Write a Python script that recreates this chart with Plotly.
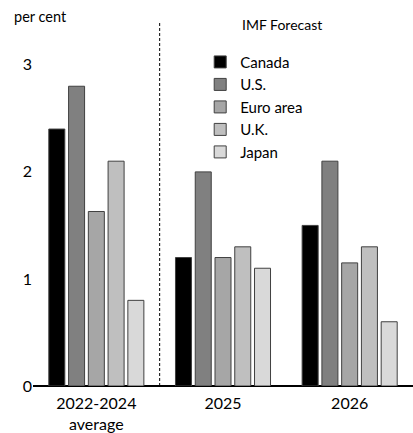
import plotly.graph_objects as go

categories = ["2022-2024<br>average", "2025", "2026"]
countries = ["Canada", "U.S.", "Euro area", "U.K.", "Japan"]
canada = [2.4, 1.2, 1.5]
us = [2.8, 2.0, 2.1]
euro_area = [1.63, 1.2, 1.15]
uk = [2.1, 1.3, 1.3]
japan = [0.8, 1.1, 0.6]
colors = ["#000000", "#808080", "#a6a6a6", "#bfbfbf", "#d9d9d9"]

series = [canada, us, euro_area, uk, japan]

fig = go.Figure()
for name, vals, col in zip(countries, series, colors):
    fig.add_trace(go.Bar(
        x=categories, y=vals, name=name,
        marker=dict(color=col, line=dict(color="#404040", width=1)),
    ))

# separator between history and forecast
fig.add_shape(type="line", xref="x", yref="paper", x0=0.5, x1=0.5, y0=0, y1=1,
              line=dict(color="#000000", width=1, dash="3px,2px"))

fig.add_annotation(text="per cent", xref="paper", yref="paper", x=-0.055, y=0.985,
                   xanchor="left", yanchor="bottom", showarrow=False,
                   font=dict(size=14.5, color="#000"))
fig.add_annotation(text="IMF Forecast", xref="paper", yref="paper", x=0.655, y=0.993,
                   xanchor="center", yanchor="middle", showarrow=False,
                   font=dict(size=14, color="#000"))

fig.update_layout(
    width=413, height=433,
    margin=dict(l=33, r=0, t=22, b=47),
    paper_bgcolor="white", plot_bgcolor="white",
    font=dict(family="Lato, sans-serif", size=15, color="#000"),
    barmode="group", bargap=0.22, bargroupgap=0.19,
    showlegend=True,
    legend=dict(x=0.44, y=0.935, xanchor="left", yanchor="top",
                font=dict(size=15), bgcolor="rgba(0,0,0,0)",
                tracegroupgap=0, itemwidth=30),
    xaxis=dict(showgrid=False, showline=False, ticks="", tickfont=dict(size=16),
               range=[-0.5, 2.5], ticklabelstandoff=6, automargin=False),
    yaxis=dict(range=[0, 3.4], tickvals=[0, 1, 2, 3], showgrid=False,
               zeroline=True, zerolinecolor="#000", zerolinewidth=2,
               showline=False, ticks="", tickfont=dict(size=16), automargin=False),
)

fig.write_html("out.html")
